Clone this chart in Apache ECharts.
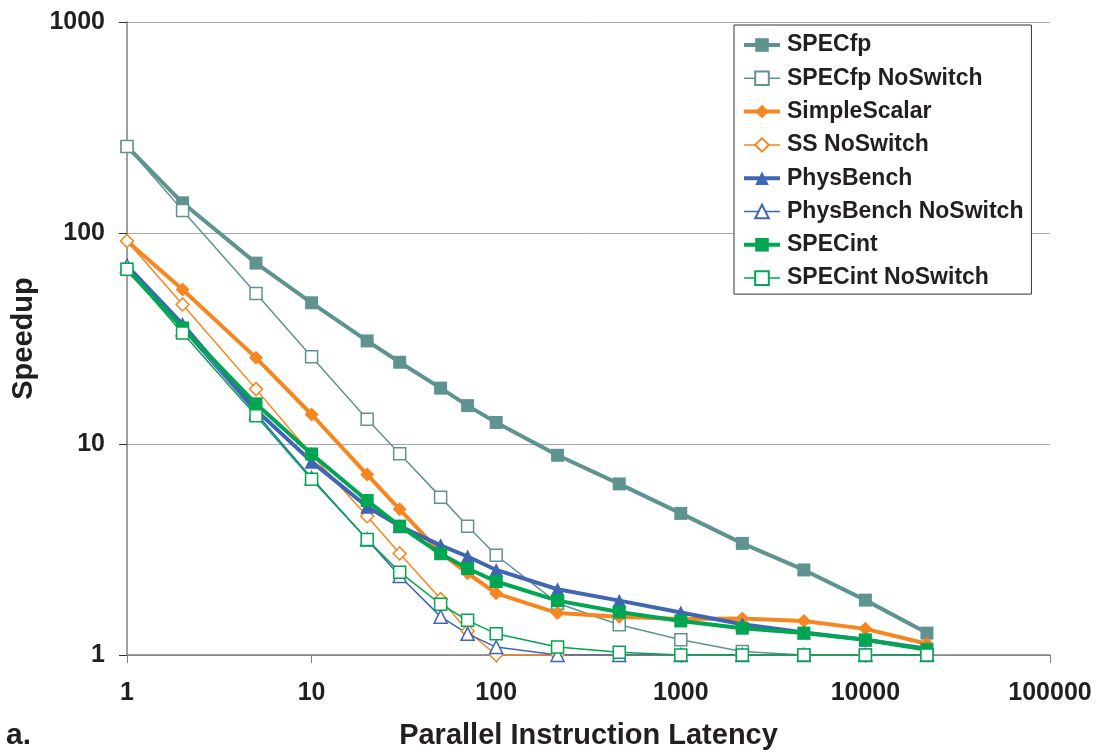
<!DOCTYPE html>
<html>
<head>
<meta charset="utf-8">
<script src="https://cdn.jsdelivr.net/npm/echarts@6/dist/echarts.min.js"></script>
<style>
  html, body { margin: 0; padding: 0; background: #fff; }
  #chart { width: 1104px; height: 755px; }
</style>
</head>
<body>
<div id="chart"></div>
<script>
// x positions (parallel instruction latency)
const latency = [1, 2, 5, 10, 20, 30, 50, 70, 100, 215, 464, 1000, 2154, 4642, 10000, 21544];

const specfp = [257, 139, 72, 46.7, 30.8, 24.4, 18.4, 15.2, 12.65, 8.84, 6.47, 4.69, 3.38, 2.53, 1.82, 1.27];
const specfpNoSwitch = [257, 128, 51.7, 25.9, 13.1, 9.0, 5.6, 4.08, 2.97, 1.76, 1.39, 1.18, 1.04, 1.0, 1.0, 1.0];
const simpleScalar = [91.6, 54, 25.6, 13.8, 7.16, 4.9, 3.05, 2.44, 1.96, 1.58, 1.52, 1.48, 1.49, 1.45, 1.33, 1.13];
const ssNoSwitch = [91.6, 45.8, 18.2, 8.9, 4.55, 3.03, 1.84, 1.3, 1.0, 1.0, 1.0, 1.0, 1.0, 1.0, 1.0, 1.0];
const physBench = [70, 37, 14.5, 8.25, 5.04, 4.08, 3.31, 2.93, 2.53, 2.05, 1.81, 1.59, 1.4, 1.28, 1.18, 1.07];
const physBenchNoSwitch = [70, 35, 14, 6.9, 3.53, 2.37, 1.52, 1.26, 1.09, 1.0, 1.0, 1.0, 1.0, 1.0, 1.0, 1.0];
const specint = [67.3, 35.5, 15.5, 8.97, 5.4, 4.08, 3.02, 2.57, 2.23, 1.81, 1.6, 1.45, 1.34, 1.27, 1.18, 1.06];
const specintNoSwitch = [67.3, 33.6, 13.6, 6.8, 3.53, 2.47, 1.74, 1.46, 1.26, 1.09, 1.03, 1.0, 1.0, 1.0, 1.0, 1.0];

const TEAL = '#5f9390';
const ORANGE = '#f6861f';
const BLUE = '#3f66b3';
const GREEN = '#00a651';
const FONT = '"Liberation Sans", Arial, sans-serif';

function pairs(ys) {
  return latency.map((x, i) => [x, ys[i]]);
}

// thick line, filled marker
function solid(name, ys, color, symbol, size) {
  return {
    name: name,
    type: 'line',
    data: pairs(ys),
    symbol: symbol,
    symbolSize: size,
    lineStyle: { color: color, width: 4 },
    itemStyle: { color: color },
    emphasis: { disabled: true }
  };
}

// thin line, hollow marker
function hollow(name, ys, color, symbol, size) {
  return {
    name: name,
    type: 'line',
    data: pairs(ys),
    symbol: symbol,
    symbolSize: size,
    lineStyle: { color: color, width: 1.5 },
    itemStyle: { color: '#fff', borderColor: color, borderWidth: 1.5 },
    emphasis: { disabled: true }
  };
}

const seriesList = [
  solid('SPECfp', specfp, TEAL, 'rect', 13),
  hollow('SPECfp NoSwitch', specfpNoSwitch, TEAL, 'rect', 12),
  solid('SimpleScalar', simpleScalar, ORANGE, 'diamond', 14),
  hollow('SS NoSwitch', ssNoSwitch, ORANGE, 'diamond', 13),
  solid('PhysBench', physBench, BLUE, 'triangle', 14),
  hollow('PhysBench NoSwitch', physBenchNoSwitch, BLUE, 'triangle', 13),
  solid('SPECint', specint, GREEN, 'rect', 13),
  hollow('SPECint NoSwitch', specintNoSwitch, GREEN, 'rect', 12)
];

const chart = echarts.init(document.getElementById('chart'));
const option = {
  animation: false,
  textStyle: { fontFamily: FONT },
  grid: { left: 127, right: 54, top: 22, bottom: 99 },
  legend: {
    orient: 'vertical',
    left: 734,
    top: 25,
    padding: [7, 8, 3, 8],
    itemGap: 7.3,
    itemWidth: 36,
    itemHeight: 17,
    backgroundColor: '#fff',
    borderColor: '#333',
    borderWidth: 1,
    selectedMode: false,
    data: seriesList.map(s => ({
      name: s.name,
      lineStyle: { width: s.lineStyle.width === 4 ? 4 : 1.5 }
    })),
    textStyle: { fontFamily: FONT, fontSize: 23, fontWeight: 'bold', color: '#231f20', lineHeight: 26, padding: [0, 0, 0, 2] }
  },
  xAxis: {
    type: 'log',
    logBase: 10,
    min: 1,
    max: 100000,
    name: 'Parallel Instruction Latency',
    nameLocation: 'middle',
    nameGap: 66,
    nameTextStyle: { fontFamily: FONT, fontSize: 29, fontWeight: 'bold', color: '#231f20' },
    axisLine: { lineStyle: { color: '#808080', width: 1.5 } },
    axisTick: { show: true, length: 8, lineStyle: { color: '#808080' } },
    axisLabel: {
      margin: 26,
      fontFamily: FONT, fontSize: 25, fontWeight: 'bold', color: '#231f20',
      formatter: v => String(Math.round(v))
    },
    splitLine: { show: false },
    minorTick: { show: false }
  },
  yAxis: {
    type: 'log',
    logBase: 10,
    min: 1,
    max: 1000,
    name: 'Speedup',
    nameLocation: 'middle',
    nameGap: 87,
    nameTextStyle: { fontFamily: FONT, fontSize: 29, fontWeight: 'bold', color: '#231f20' },
    axisLine: { show: true, lineStyle: { color: '#808080', width: 1.5 } },
    axisTick: { show: true, length: 8, lineStyle: { color: '#333' } },
    axisLabel: {
      margin: 22,
      fontFamily: FONT, fontSize: 25, fontWeight: 'bold', color: '#231f20',
      formatter: v => String(Math.round(v))
    },
    splitLine: { show: true, lineStyle: { color: '#a6a6a6', width: 1 } }
  },
  graphic: [{
    type: 'text',
    left: 6,
    top: 721,
    style: { text: 'a.', font: 'bold 30px ' + FONT, fill: '#231f20' }
  }],
  series: seriesList
};
chart.setOption(option);
</script>
</body>
</html>
